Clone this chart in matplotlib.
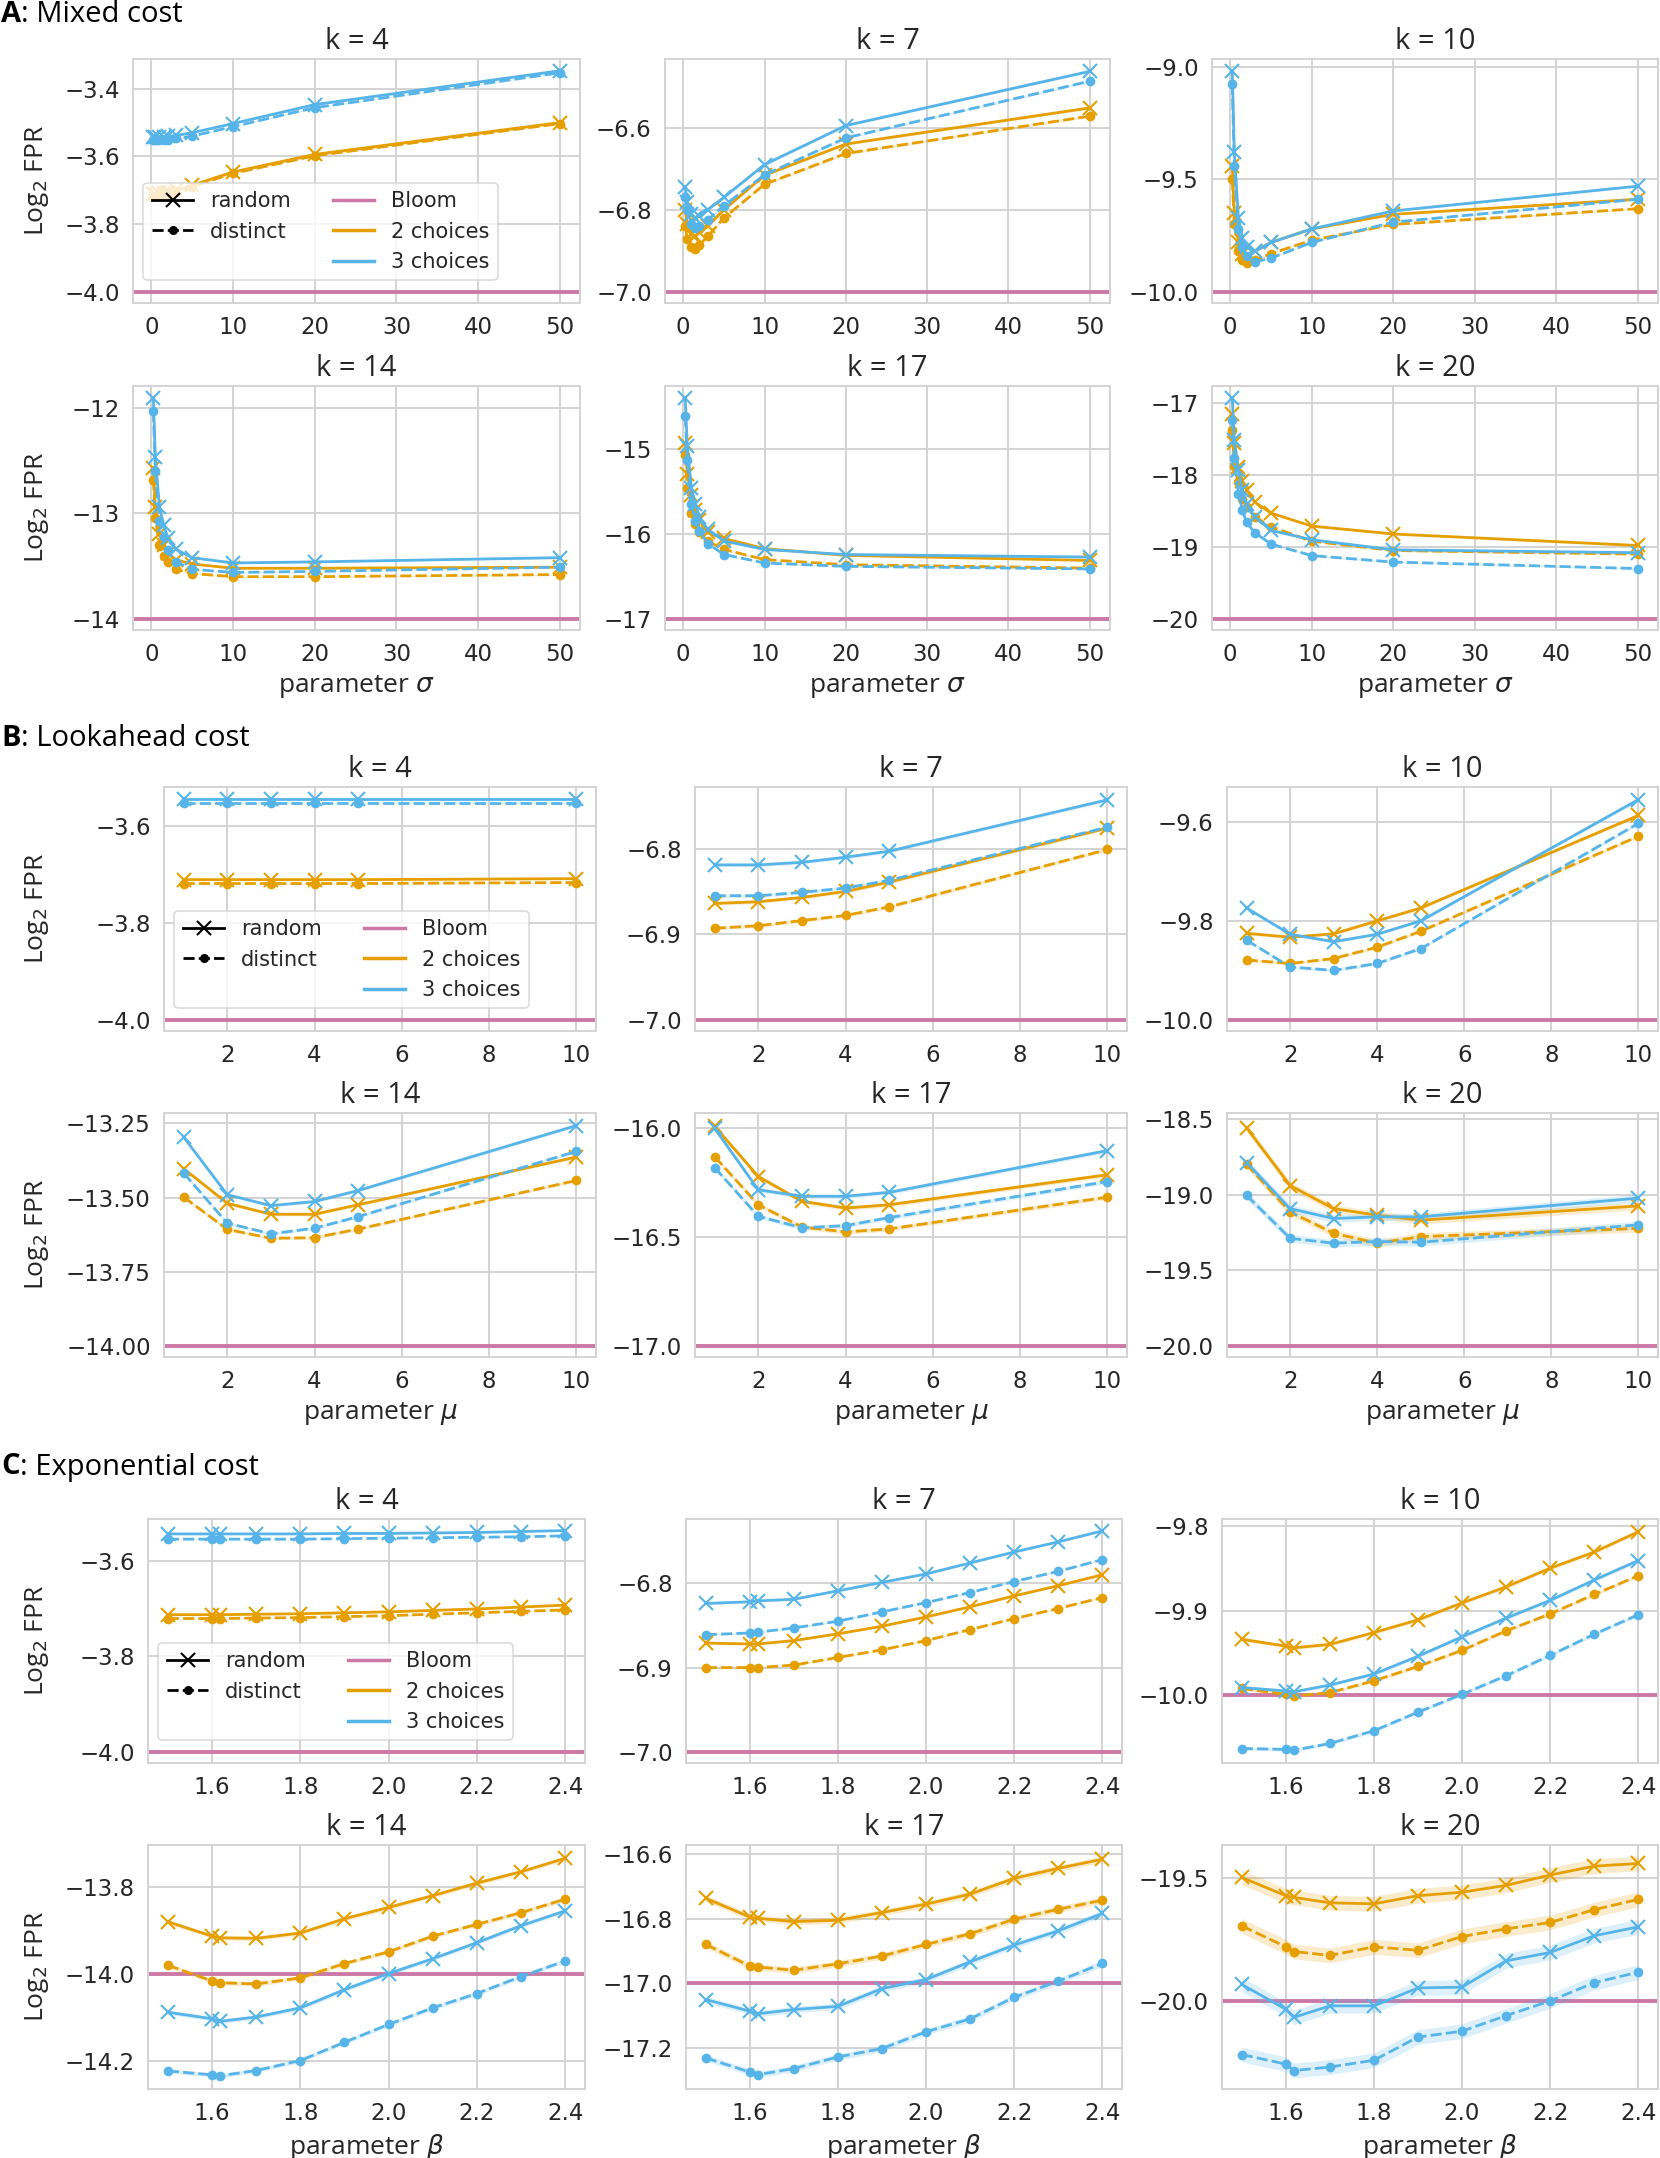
import matplotlib
matplotlib.use("Agg")
import matplotlib.pyplot as plt
import numpy as np
from matplotlib.lines import Line2D

# ---------------- data ----------------
sigma = [0.25, 0.5, 1, 1.5, 2, 3, 5, 10, 20, 50]
mu = [1, 2, 3, 4, 5, 10]
beta = [1.5, 1.6, 1.618, 1.7, 1.8, 1.9, 2.0, 2.1, 2.2, 2.3, 2.4]
ks = [4, 7, 10, 14, 17, 20]

# A: Mixed cost  (r = random, d = distinct, 2/3 = choices)
mixed_k4_r2 = [-3.710, -3.710, -3.709, -3.707, -3.705, -3.700, -3.685, -3.646, -3.594, -3.500]
mixed_k4_d2 = [-3.714, -3.714, -3.713, -3.711, -3.709, -3.704, -3.689, -3.650, -3.598, -3.503]
mixed_k4_r3 = [-3.542, -3.543, -3.543, -3.542, -3.541, -3.538, -3.530, -3.503, -3.447, -3.347]
mixed_k4_d3 = [-3.552, -3.552, -3.552, -3.551, -3.550, -3.547, -3.540, -3.512, -3.456, -3.353]
mixed_k7_r2 = [-6.800, -6.835, -6.860, -6.865, -6.855, -6.840, -6.800, -6.716, -6.640, -6.552]
mixed_k7_d2 = [-6.840, -6.870, -6.890, -6.895, -6.885, -6.865, -6.820, -6.738, -6.663, -6.572]
mixed_k7_r3 = [-6.745, -6.780, -6.810, -6.820, -6.815, -6.800, -6.770, -6.690, -6.595, -6.463]
mixed_k7_d3 = [-6.770, -6.800, -6.835, -6.845, -6.840, -6.825, -6.790, -6.715, -6.625, -6.487]
mixed_k10_r2 = [-9.44, -9.65, -9.78, -9.83, -9.84, -9.82, -9.78, -9.72, -9.655, -9.588]
mixed_k10_d2 = [-9.50, -9.70, -9.82, -9.86, -9.87, -9.86, -9.83, -9.77, -9.70, -9.63]
mixed_k10_r3 = [-9.018, -9.38, -9.67, -9.76, -9.80, -9.82, -9.78, -9.72, -9.64, -9.53]
mixed_k10_d3 = [-9.074, -9.44, -9.72, -9.80, -9.84, -9.866, -9.85, -9.78, -9.69, -9.588]
mixed_k14_r2 = [-12.57, -12.94, -13.20, -13.30, -13.38, -13.44, -13.48, -13.52, -13.52, -13.51]
mixed_k14_d2 = [-12.68, -13.04, -13.30, -13.40, -13.46, -13.53, -13.57, -13.60, -13.60, -13.58]
mixed_k14_r3 = [-11.905, -12.47, -12.94, -13.11, -13.23, -13.34, -13.42, -13.47, -13.46, -13.42]
mixed_k14_d3 = [-12.03, -12.60, -13.07, -13.22, -13.35, -13.46, -13.53, -13.56, -13.55, -13.51]
mixed_k17_r2 = [-14.92, -15.29, -15.54, -15.72, -15.83, -15.98, -16.05, -16.17, -16.25, -16.31]
mixed_k17_d2 = [-15.06, -15.45, -15.75, -15.88, -15.98, -16.08, -16.18, -16.30, -16.36, -16.40]
mixed_k17_r3 = [-14.39, -14.955, -15.45, -15.64, -15.80, -15.94, -16.08, -16.18, -16.24, -16.27]
mixed_k17_d3 = [-14.61, -15.13, -15.64, -15.84, -15.96, -16.11, -16.24, -16.34, -16.38, -16.41]
mixed_k20_r2 = [-17.15, -17.56, -17.89, -18.08, -18.21, -18.375, -18.53, -18.71, -18.82, -18.98]
mixed_k20_d2 = [-17.37, -17.87, -18.10, -18.33, -18.44, -18.58, -18.72, -18.92, -19.05, -19.10]
mixed_k20_r3 = [-16.93, -17.52, -17.93, -18.21, -18.40, -18.58, -18.77, -18.90, -19.04, -19.08]
mixed_k20_d3 = [-17.23, -17.77, -18.26, -18.49, -18.66, -18.80, -18.96, -19.12, -19.21, -19.30]

# B: Lookahead cost
look_k4_r2 = [-3.711, -3.711, -3.711, -3.711, -3.711, -3.709]
look_k4_d2 = [-3.719, -3.719, -3.719, -3.719, -3.719, -3.717]
look_k4_r3 = [-3.544, -3.544, -3.544, -3.544, -3.544, -3.544]
look_k4_d3 = [-3.554, -3.554, -3.554, -3.554, -3.554, -3.554]
look_k7_r2 = [-6.864, -6.862, -6.857, -6.850, -6.839, -6.776]
look_k7_d2 = [-6.893, -6.890, -6.884, -6.878, -6.868, -6.801]
look_k7_r3 = [-6.819, -6.819, -6.816, -6.810, -6.803, -6.743]
look_k7_d3 = [-6.855, -6.855, -6.851, -6.846, -6.837, -6.775]
look_k10_r2 = [-9.825, -9.833, -9.826, -9.800, -9.774, -9.587]
look_k10_d2 = [-9.879, -9.886, -9.876, -9.853, -9.821, -9.629]
look_k10_r3 = [-9.774, -9.827, -9.842, -9.827, -9.800, -9.555]
look_k10_d3 = [-9.839, -9.893, -9.900, -9.886, -9.856, -9.603]
look_k14_r2 = [-13.402, -13.519, -13.556, -13.556, -13.524, -13.363]
look_k14_d2 = [-13.498, -13.607, -13.637, -13.635, -13.606, -13.442]
look_k14_r3 = [-13.296, -13.490, -13.527, -13.513, -13.476, -13.257]
look_k14_d3 = [-13.417, -13.586, -13.622, -13.603, -13.564, -13.344]
look_k17_r2 = [-15.990, -16.221, -16.335, -16.366, -16.351, -16.213]
look_k17_d2 = [-16.130, -16.351, -16.453, -16.476, -16.462, -16.316]
look_k17_r3 = [-16.000, -16.282, -16.312, -16.312, -16.294, -16.102]
look_k17_d3 = [-16.180, -16.404, -16.457, -16.447, -16.410, -16.244]
look_k20_r2 = [-18.559, -18.940, -19.093, -19.136, -19.169, -19.075]
look_k20_d2 = [-18.800, -19.114, -19.256, -19.321, -19.278, -19.223]
look_k20_r3 = [-18.788, -19.093, -19.158, -19.147, -19.147, -19.023]
look_k20_d3 = [-19.005, -19.289, -19.321, -19.310, -19.315, -19.200]

# C: Exponential cost
expo_k4_r2 = [-3.713, -3.713, -3.713, -3.712, -3.711, -3.709, -3.707, -3.704, -3.701, -3.697, -3.693]
expo_k4_d2 = [-3.721, -3.721, -3.721, -3.720, -3.719, -3.717, -3.715, -3.712, -3.709, -3.706, -3.703]
expo_k4_r3 = [-3.544, -3.544, -3.544, -3.544, -3.544, -3.543, -3.543, -3.542, -3.541, -3.539, -3.537]
expo_k4_d3 = [-3.555, -3.555, -3.555, -3.555, -3.555, -3.554, -3.553, -3.552, -3.551, -3.550, -3.548]
expo_k7_r2 = [-6.871, -6.872, -6.872, -6.868, -6.860, -6.851, -6.840, -6.828, -6.815, -6.803, -6.790]
expo_k7_d2 = [-6.900, -6.900, -6.900, -6.897, -6.888, -6.879, -6.868, -6.855, -6.842, -6.830, -6.817]
expo_k7_r3 = [-6.824, -6.822, -6.821, -6.819, -6.809, -6.799, -6.789, -6.776, -6.763, -6.751, -6.738]
expo_k7_d3 = [-6.861, -6.859, -6.858, -6.853, -6.845, -6.834, -6.823, -6.811, -6.798, -6.786, -6.772]
expo_k10_r2 = [-9.934, -9.942, -9.944, -9.940, -9.926, -9.911, -9.891, -9.872, -9.850, -9.831, -9.807]
expo_k10_d2 = [-9.992, -9.999, -10.001, -9.997, -9.983, -9.966, -9.947, -9.924, -9.904, -9.881, -9.859]
expo_k10_r3 = [-9.991, -9.995, -9.996, -9.988, -9.975, -9.954, -9.931, -9.909, -9.888, -9.864, -9.841]
expo_k10_d3 = [-10.063, -10.064, -10.065, -10.057, -10.042, -10.020, -9.999, -9.977, -9.953, -9.928, -9.905]
expo_k14_r2 = [-13.879, -13.912, -13.916, -13.917, -13.905, -13.872, -13.846, -13.819, -13.790, -13.764, -13.733]
expo_k14_d2 = [-13.979, -14.015, -14.019, -14.022, -14.008, -13.975, -13.948, -13.912, -13.885, -13.858, -13.827]
expo_k14_r3 = [-14.087, -14.102, -14.108, -14.098, -14.077, -14.035, -13.998, -13.964, -13.927, -13.888, -13.854]
expo_k14_d3 = [-14.222, -14.231, -14.233, -14.221, -14.198, -14.156, -14.115, -14.077, -14.044, -14.005, -13.969]
expo_k17_r2 = [-16.737, -16.795, -16.799, -16.809, -16.805, -16.781, -16.755, -16.724, -16.675, -16.644, -16.616]
expo_k17_d2 = [-16.880, -16.947, -16.950, -16.960, -16.940, -16.916, -16.880, -16.847, -16.802, -16.771, -16.743]
expo_k17_r3 = [-17.051, -17.087, -17.095, -17.082, -17.072, -17.017, -16.989, -16.934, -16.882, -16.838, -16.784]
expo_k17_d3 = [-17.232, -17.276, -17.284, -17.265, -17.229, -17.203, -17.151, -17.111, -17.044, -16.994, -16.939]
expo_k20_r2 = [-19.499, -19.573, -19.580, -19.602, -19.606, -19.573, -19.559, -19.531, -19.489, -19.453, -19.442]
expo_k20_d2 = [-19.696, -19.781, -19.800, -19.816, -19.781, -19.795, -19.739, -19.708, -19.682, -19.630, -19.588]
expo_k20_r3 = [-19.934, -20.035, -20.068, -20.021, -20.021, -19.948, -19.945, -19.838, -19.804, -19.736, -19.700]
expo_k20_d3 = [-20.219, -20.258, -20.284, -20.270, -20.242, -20.148, -20.124, -20.061, -20.001, -19.927, -19.884]

# confidence-band half widths per panel (k order)
mixed_band = [0.002, 0.003, 0.004, 0.006, 0.008, 0.012]
look_band = [0.001, 0.002, 0.003, 0.005, 0.010, 0.025]
expo_band = [0.001, 0.001, 0.002, 0.005, 0.010, 0.030]

mixed_yticks = [[-4.0, -3.8, -3.6, -3.4], [-7.0, -6.8, -6.6], [-10.0, -9.5, -9.0],
                [-14, -13, -12], [-17, -16, -15], [-20, -19, -18, -17]]
look_yticks = [[-4.0, -3.8, -3.6], [-7.0, -6.9, -6.8], [-10.0, -9.8, -9.6],
               [-14.00, -13.75, -13.50, -13.25], [-17.0, -16.5, -16.0], [-20.0, -19.5, -19.0, -18.5]]
expo_yticks = [[-4.0, -3.8, -3.6], [-7.0, -6.9, -6.8], [-10.0, -9.9, -9.8],
               [-14.2, -14.0, -13.8], [-17.2, -17.0, -16.8, -16.6], [-20.0, -19.5]]
mixed_xticks = [0, 10, 20, 30, 40, 50]
look_xticks = [2, 4, 6, 8, 10]
expo_xticks = [1.6, 1.8, 2.0, 2.2, 2.4]

legend_labels = ['random', 'distinct', '', 'Bloom', '2 choices', '3 choices']

# ---------------- style ----------------
W, H = 1660, 2158
plt.rcParams.update({
    'font.family': ['DejaVu Sans'],
    'mathtext.fontset': 'dejavusans',
    'axes.formatter.useoffset': False,
    'axes.unicode_minus': True,
})
TXT = '#262626'
GRID = '#d3d3d3'
ORANGE = '#E69F00'
BLUE = '#56B4E9'
PINK = '#CC79A7'
TFONT = ['Open Sans', 'DejaVu Sans']
DASH = (0, (4, 1.5))
TITLE_SIZE = 21
LABEL_SIZE = 19

fig = plt.figure(figsize=(W / 100, H / 100), dpi=100)
fig.patch.set_facecolor('white')


def add_ax(l, r, t, b):
    return fig.add_axes([l / W, 1 - b / H, (r - l) / W, (b - t) / H])


def draw_panel(ax, x, k, r2, d2, r3, d3, band, yticks, xticks):
    ax.set_facecolor('white')
    ax.grid(True, color=GRID, lw=1.4)
    ax.set_axisbelow(True)
    for s in ax.spines.values():
        s.set_color(GRID)
        s.set_linewidth(1.4)
    ax.axhline(-k, color=PINK, lw=2.8, zorder=2)
    xa = np.asarray(x, dtype=float)
    for rr, dd, col in ((r2, d2, ORANGE), (r3, d3, BLUE)):
        for ys, ls, mk, ms in ((rr, '-', 'x', 10), (dd, DASH, '.', 11)):
            ya = np.asarray(ys, dtype=float)
            ax.fill_between(xa, ya - band, ya + band, color=col, alpha=0.2, lw=0, zorder=3)
            ax.plot(xa, ya, color=col, ls=ls, marker=mk, ms=ms, lw=2.0, mew=1.5, zorder=4)
    ax.set_xticks(xticks)
    ax.set_yticks(yticks)
    ax.tick_params(labelsize=16.5, colors=TXT, length=0, pad=9.5)
    ax.set_title(f'k = {k}', fontsize=TITLE_SIZE, family=TFONT, color=TXT, pad=7)


def legend(ax):
    hs = [Line2D([], [], color='black', ls='-', marker='x', ms=10, mew=1.5, lw=2),
          Line2D([], [], color='black', ls=DASH, marker='.', ms=11, lw=2),
          Line2D([], [], alpha=0),
          Line2D([], [], color=PINK, lw=2.5),
          Line2D([], [], color=ORANGE, lw=2.5),
          Line2D([], [], color=BLUE, lw=2.5)]
    lg = ax.legend(hs, legend_labels, ncol=2, loc='lower left', bbox_to_anchor=(0.0, 0.05),
                   fontsize=15, frameon=True, framealpha=0.8, edgecolor=GRID, fancybox=True)
    lg.get_frame().set_linewidth(1.2)
    for t in lg.get_texts():
        t.set_color(TXT)


sections = [
    dict(letter='A', name=': Mixed cost', x=sigma, xlabel=r'parameter $\sigma$',
         data=[(mixed_k4_r2, mixed_k4_d2, mixed_k4_r3, mixed_k4_d3),
               (mixed_k7_r2, mixed_k7_d2, mixed_k7_r3, mixed_k7_d3),
               (mixed_k10_r2, mixed_k10_d2, mixed_k10_r3, mixed_k10_d3),
               (mixed_k14_r2, mixed_k14_d2, mixed_k14_r3, mixed_k14_d3),
               (mixed_k17_r2, mixed_k17_d2, mixed_k17_r3, mixed_k17_d3),
               (mixed_k20_r2, mixed_k20_d2, mixed_k20_r3, mixed_k20_d3)],
         band=mixed_band, yticks=mixed_yticks, xticks=mixed_xticks,
         cols=[(133, 580), (665, 1110), (1212, 1658)], rows=[(59, 303), (386, 630)], ty=15),
    dict(letter='B', name=': Lookahead cost', x=mu, xlabel=r'parameter $\mu$',
         data=[(look_k4_r2, look_k4_d2, look_k4_r3, look_k4_d3),
               (look_k7_r2, look_k7_d2, look_k7_r3, look_k7_d3),
               (look_k10_r2, look_k10_d2, look_k10_r3, look_k10_d3),
               (look_k14_r2, look_k14_d2, look_k14_r3, look_k14_d3),
               (look_k17_r2, look_k17_d2, look_k17_r3, look_k17_d3),
               (look_k20_r2, look_k20_d2, look_k20_r3, look_k20_d3)],
         band=look_band, yticks=look_yticks, xticks=look_xticks,
         cols=[(164, 596), (695, 1127), (1227, 1658)], rows=[(787, 1031), (1113, 1357)], ty=739),
    dict(letter='C', name=': Exponential cost', x=beta, xlabel=r'parameter $\beta$',
         data=[(expo_k4_r2, expo_k4_d2, expo_k4_r3, expo_k4_d3),
               (expo_k7_r2, expo_k7_d2, expo_k7_r3, expo_k7_d3),
               (expo_k10_r2, expo_k10_d2, expo_k10_r3, expo_k10_d3),
               (expo_k14_r2, expo_k14_d2, expo_k14_r3, expo_k14_d3),
               (expo_k17_r2, expo_k17_d2, expo_k17_r3, expo_k17_d3),
               (expo_k20_r2, expo_k20_d2, expo_k20_r3, expo_k20_d3)],
         band=expo_band, yticks=expo_yticks, xticks=expo_xticks,
         cols=[(148, 585), (686, 1122), (1222, 1658)], rows=[(1519, 1763), (1845, 2089)], ty=1467),
]

renderer = fig.canvas.get_renderer()
for sec in sections:
    t = fig.text(1 / W, 1 - sec['ty'] / H, sec['letter'], fontsize=TITLE_SIZE, weight='bold',
                 family=TFONT, color='black', va='center', ha='left')
    bb = t.get_window_extent(renderer)
    fig.text(bb.x1 / W, 1 - sec['ty'] / H, sec['name'], fontsize=TITLE_SIZE,
             family=TFONT, color='black', va='center', ha='left')
    for i, k in enumerate(ks):
        row, col = divmod(i, 3)
        l, r = sec['cols'][col]
        tp, bt = sec['rows'][row]
        ax = add_ax(l, r, tp, bt)
        r2, d2, r3, d3 = sec['data'][i]
        draw_panel(ax, sec['x'], k, r2, d2, r3, d3, sec['band'][i], sec['yticks'][i], sec['xticks'])
        if col == 0:
            fig.text(37 / W, 1 - (tp + bt) / 2 / H, r'Log$_2$ FPR', rotation=90, fontsize=LABEL_SIZE,
                     family=TFONT, color=TXT, ha='center', va='center')
        if row == 1:
            ax.set_xlabel(sec['xlabel'], fontsize=LABEL_SIZE, family=TFONT, color=TXT, labelpad=5)
        if i == 0:
            legend(ax)

fig.savefig('out.png', dpi=100, facecolor='white')
